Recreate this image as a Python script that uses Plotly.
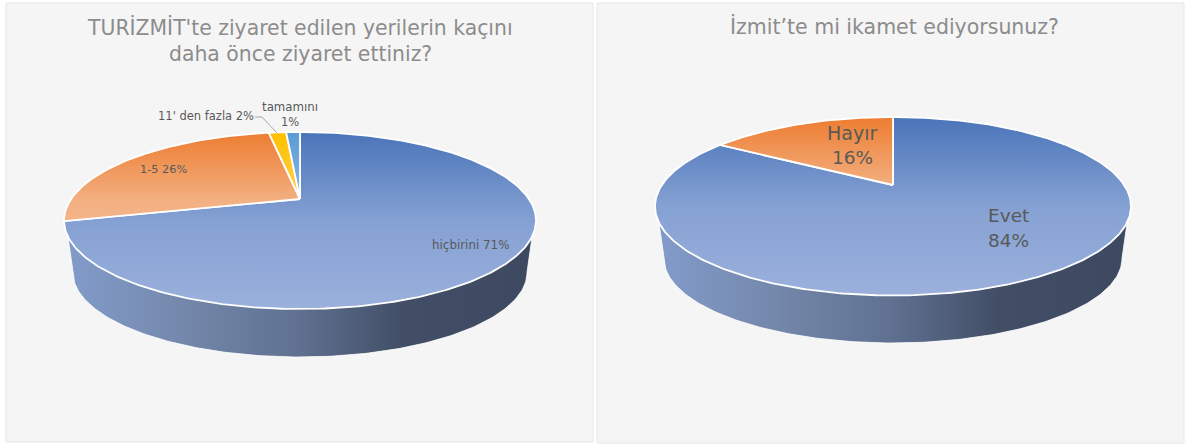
import numpy as np
import plotly.graph_objects as go

# ---- data ----
left_title = ["TURİZMİT'te ziyaret edilen yerilerin kaçını", "daha önce ziyaret ettiniz?"]
left_labels = ["hiçbirini", "1-5", "11' den fazla", "tamamını"]
left_values = [71.0, 26.3, 1.5, 1.2]
left_pct = ["71%", "26%", "2%", "1%"]

right_title = "İzmit’te mi ikamet ediyorsunuz?"
right_labels = ["Evet", "Hayır"]
right_values = [84, 16]
right_pct = ["84%", "16%"]

# ---- styles ----
BLUE = [[0, "#4a74b9"], [0.5, "#85a1d3"], [1, "#9bb0dc"]]
ORANGE = [[0, "#ed7d31"], [0.4, "#f3b183"], [1, "#f6c5a1"]]
YELLOW = [[0, "#ffc000"], [0.4, "#ffd34d"], [1, "#ffe08a"]]
SKY = [[0, "#5b9bd5"], [0.4, "#8cbbe5"], [1, "#b0d0ee"]]
SIDE = [[0, "#829ccb"], [0.25, "#7488ab"], [0.5, "#5f7090"], [0.72, "#414e66"], [1, "#3c4960"]]
FONT = "DejaVu Sans"
TXT = "#595959"

# geometry of each perspective disc: centre x, apex y, far & near distance, half width
# and the lower disc that closes the side wall
P_L = dict(cx=300, y0=199, far=67, near=110, rx=236, bot_cy=272.5, bot_rx=227, bot_ry=84.5, top_cy=220.5)
P_R = dict(cx=893, y0=185, far=68, near=110.5, rx=238, bot_cy=258.5, bot_rx=229, bot_ry=84.5, top_cy=206.5)


def project(g, theta):
    """theta: clockwise from the top of the disc, radians."""
    p = (g["near"] - g["far"]) / (g["near"] + g["far"])
    B = g["far"] * (1 + p)
    A = g["rx"] * np.sqrt(1 - p * p)
    u, v = np.sin(theta), np.cos(theta)
    w = 1 + p * v
    return g["cx"] + A * u / w, g["y0"] - B * v / w


def side_trace(g):
    t = np.linspace(np.pi, 0, 160)
    bx = g["cx"] + g["bot_rx"] * np.cos(t)
    by = g["bot_cy"] + g["bot_ry"] * np.sin(t)
    # the wall meets the top disc a little below its widest point
    dy = 16
    tx = g["rx"] * np.sqrt(1 - (dy / (g["near"] + g["far"]) * 2) ** 2)
    xs = [g["cx"] - tx, *bx, g["cx"] + tx]
    ys = [g["top_cy"] + dy, *by, g["top_cy"] + dy]
    return go.Scatter(
        x=xs, y=ys, mode="lines", fill="toself",
        line=dict(color="rgba(255,255,255,0.8)", width=1),
        fillgradient=dict(type="horizontal", colorscale=SIDE,
                          start=g["cx"] - g["rx"], stop=g["cx"] + g["rx"]),
        hoverinfo="skip", showlegend=False,
    )


def wedge_traces(g, labels, values, scales):
    total = sum(values)
    out, acc = [], 0.0
    top, bottom = g["y0"] - g["far"], g["y0"] + g["near"]
    for lab, val, cs in zip(labels, values, scales):
        a0 = acc / total * 2 * np.pi
        acc += val
        a1 = acc / total * 2 * np.pi
        n = max(4, int(val * 4))
        t = np.linspace(a0, a1, n)
        x, y = project(g, t)
        out.append(go.Scatter(
            x=[g["cx"], *x, g["cx"]], y=[g["y0"], *y, g["y0"]],
            mode="lines", fill="toself", name=lab,
            line=dict(color="white", width=1.8),
            fillgradient=dict(type="vertical", colorscale=cs, start=top, stop=bottom),
            hoverinfo="name", showlegend=False,
        ))
    return out


fig = go.Figure()
fig.add_trace(side_trace(P_L))
for tr in wedge_traces(P_L, left_labels, left_values, [BLUE, ORANGE, YELLOW, SKY]):
    fig.add_trace(tr)
fig.add_trace(side_trace(P_R))
for tr in wedge_traces(P_R, right_labels, right_values, [BLUE, ORANGE]):
    fig.add_trace(tr)


def note(x, y, text, size, color=TXT):
    fig.add_annotation(x=x, y=y, text=text, showarrow=False, xref="x", yref="y",
                       xanchor="center", yanchor="middle",
                       font=dict(family=FONT, size=size, color=color))


# titles
TITLE_C = "#8c8c8c"
note(300, 27, left_title[0], 20.4, TITLE_C)
note(300, 54, left_title[1], 20.4, TITLE_C)
note(894, 26, right_title, 20.5, TITLE_C)

# left data labels
note(470.5, 245, f"{left_labels[0]} {left_pct[0]}", 11.9)
note(163, 169, f"{left_labels[1]} {left_pct[1]}", 11.3)
note(206, 116, f"{left_labels[2]} {left_pct[2]}", 11.5)
note(290, 107, left_labels[3], 11.8)
note(290, 122, left_pct[3], 11.5)

# leader line of the small slice
fig.add_trace(go.Scatter(x=[255, 262, 277], y=[117, 117, 133], mode="lines",
                         line=dict(color="#a6a6a6", width=1),
                         hoverinfo="skip", showlegend=False))

# right data labels
note(852, 133, right_labels[1], 19)
note(852, 157, right_pct[1], 18.5)
note(1008, 215, right_labels[0], 18.5)
note(1008, 240, right_pct[0], 18.5)

panel = dict(type="rect", xref="x", yref="y", layer="below",
             fillcolor="#f5f5f5", line=dict(color="#e6e6e6", width=1))
fig.update_layout(
    width=1185, height=445,
    margin=dict(l=0, r=0, t=0, b=0),
    paper_bgcolor="#ffffff", plot_bgcolor="#ffffff",
    xaxis=dict(range=[0, 1185], visible=False, fixedrange=True),
    yaxis=dict(range=[445, 0], visible=False, fixedrange=True),
    shapes=[dict(panel, x0=6, y0=3, x1=593, y1=442),
            dict(panel, x0=597, y0=3, x1=1184, y1=443)],
    showlegend=False,
)
fig.write_html("out.html", config=dict(displayModeBar=False),
               post_script="document.body.style.margin='0';document.body.style.overflow='hidden';")
